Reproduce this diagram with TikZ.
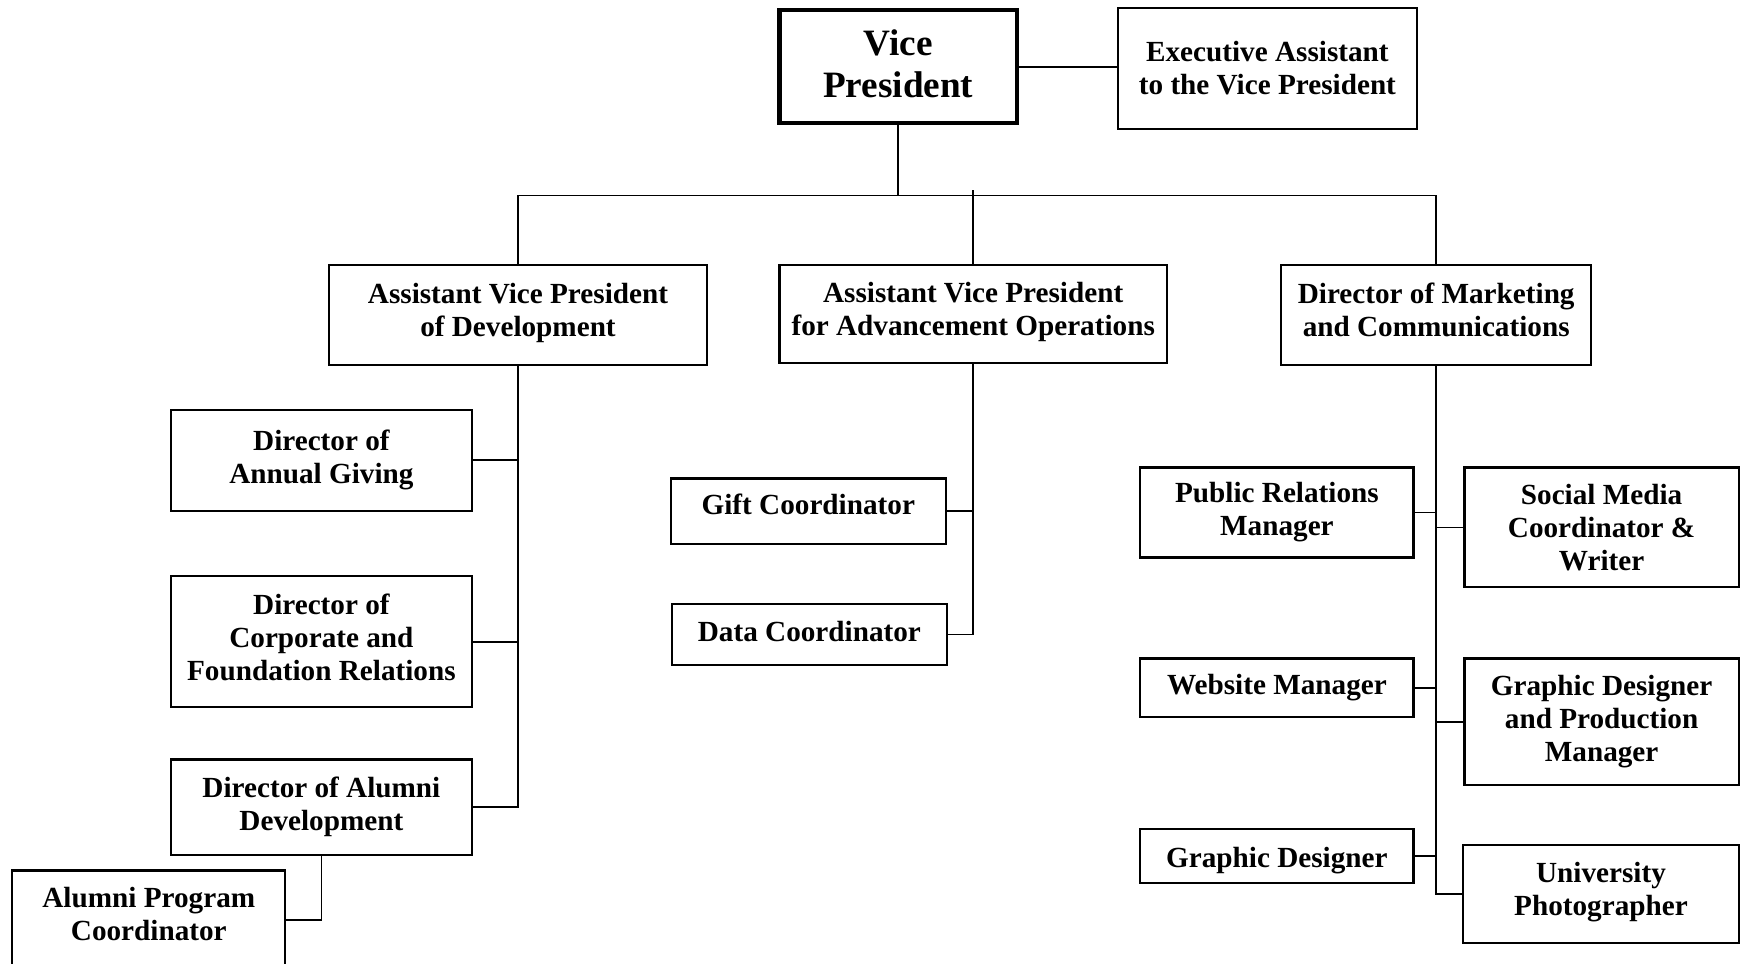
\documentclass[tikz,border=0pt]{standalone}
\usepackage{fontspec}
\setmainfont{Liberation Serif}

\begin{document}
\begin{tikzpicture}[x=0.5pt, y=-0.5pt,
  box/.style={draw, line width=1.1pt, align=center, inner sep=0pt,
    font=\fontsize{14.6}{16.5}\selectfont\bfseries},
  vpbox/.style={box, line width=2.2pt, font=\fontsize{18.6}{21.1}\selectfont\bfseries},
  boxsize/.style 2 args={minimum width=#1*0.5pt, minimum height=#2*0.5pt},
  link/.style={line width=0.9pt}]
  \useasboundingbox (0,0) rectangle (1741,964);
  % Top level
  \node[vpbox, boxsize={237.6}{113.2}, text depth=2.8pt] (vp) at (898.2,66.6) {Vice\\President};
  \node[box, boxsize={298.7}{121}] (ea) at (1267.4,68.3) {Executive Assistant\\to the Vice President};
  % Second level
  \node[box, boxsize={378.7}{99.9}, text depth=5.2pt] (dev) at (518,315.3) {Assistant Vice President\\of Development};
  \node[box, boxsize={387.5}{97.7}, text depth=5.2pt] (ops) at (973.2,314.2) {Assistant Vice President\\for Advancement Operations};
  \node[box, boxsize={309.8}{99.9}, text depth=5.5pt] (dmc) at (1436.2,315.3) {Director of Marketing\\and Communications};
  % Development
  \node[box, boxsize={300.9}{101}] (dag) at (321.4,460.2) {Director of\\Annual Giving};
  \node[box, boxsize={300.9}{131}, text depth=4.4pt] (dcf) at (321.4,641.8) {Director of\\Corporate and\\Foundation Relations};
  \node[box, boxsize={300.9}{95.5}] (dad) at (321.4,807.2) {Director of Alumni\\Development};
  \node[box, boxsize={273}{99}, text depth=6pt] (apc) at (148.8,920) {Alumni Program\\Coordinator};
  % Advancement operations
  \node[box, boxsize={275.4}{65.5}, text depth=6.7pt] (gift) at (808.3,511.3) {Gift Coordinator};
  \node[box, boxsize={275.4}{61}, text depth=3.3pt] (data) at (809.4,634.5) {Data Coordinator};
  % Marketing and communications
  \node[box, boxsize={273.1}{90}] (pr) at (1276.9,512.4) {Public Relations\\Manager};
  \node[box, boxsize={273.1}{58.9}] (wm) at (1276.9,687.9) {Website Manager};
  \node[box, boxsize={273.1}{53.3}, text height=14.5pt] (gd) at (1276.9,856) {Graphic Designer};
  \node[box, boxsize={274.2}{119.9}] (sm) at (1601.6,527.4) {Social Media\\Coordinator \&\\Writer};
  \node[box, boxsize={274.2}{126.6}] (gdpm) at (1601.6,721.7) {Graphic Designer\\and Production\\Manager};
  \node[box, boxsize={275.3}{97.6}, text depth=5.4pt] (up) at (1601,893.8) {University\\Photographer};
  % Connectors
  \draw[link] (vp.east) -- (vp.east -| ea.west);
  \coordinate (bus) at (898.2,195.4);
  \draw[link] (vp.south) -- (bus);
  \draw[link] (dev.north) |- (bus) -| (dmc.north);
  \draw[link] (ops.north) -- ++(0,-74.4);
  \draw[link] (dev.south) |- (dad.east);
  \foreach \n in {dag,dcf} {
    \draw[link] (\n.east) -- (\n.east -| dev.south);
  }
  \draw[link] (dad.south) |- (apc.east);
  \draw[link] (ops.south) |- (data.east);
  \draw[link] (gift.east) -- (gift.east -| ops.south);
  \draw[link] (dmc.south) |- (up.west);
  \foreach \n in {pr,wm,gd} {
    \draw[link] (\n.east) -- (\n.east -| dmc.south);
  }
  \foreach \n in {sm,gdpm} {
    \draw[link] (\n.west) -- (\n.west -| dmc.south);
  }
\end{tikzpicture}
\end{document}
